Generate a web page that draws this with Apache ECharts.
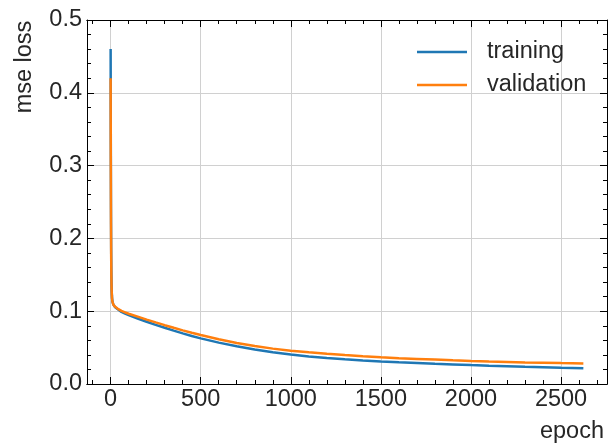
<!DOCTYPE html>
<html>
<head>
<meta charset="utf-8">
<script src="https://cdn.jsdelivr.net/npm/echarts@6/dist/echarts.min.js"></script>
<style>
  html, body { margin: 0; padding: 0; background: #fff; }
  #chart { width: 610px; height: 446px; }
</style>
</head>
<body>
<div id="chart"></div>
<script>
// Loss per epoch, sampled more densely where the curve bends sharply.
const epochs = [0, 1, 2, 3, 4, 5, 6, 7, 8, 10, 12, 15, 18, 21, 25, 30, 35, 40, 50, 60, 70, 80,
  100, 150, 200, 250, 300, 350, 400, 450, 500, 600, 700, 800, 900, 1000, 1100, 1200,
  1300, 1400, 1500, 1600, 1700, 1800, 1900, 2000, 2100, 2200, 2300, 2400, 2500, 2624];

const training = [0.460, 0.330, 0.240, 0.185, 0.155, 0.138, 0.128, 0.122, 0.118, 0.1135, 0.111,
  0.109, 0.1075, 0.1065, 0.1055, 0.1045, 0.1036, 0.1027, 0.1001, 0.0990, 0.0979, 0.0968,
  0.0948, 0.0900, 0.0855, 0.0812, 0.0772, 0.0733, 0.0696, 0.0660, 0.0627, 0.0568,
  0.0518, 0.0475, 0.0437, 0.0405, 0.0379, 0.0358, 0.0340, 0.0324, 0.0310, 0.0298, 0.0288,
  0.0278, 0.0269, 0.0260, 0.0252, 0.0245, 0.0237, 0.0230, 0.0223, 0.0215];

const validation = [0.420, 0.300, 0.220, 0.175, 0.150, 0.135, 0.126, 0.121, 0.117, 0.113, 0.111,
  0.109, 0.108, 0.107, 0.106, 0.105, 0.1042, 0.1033, 0.1015, 0.1005, 0.0995, 0.0985,
  0.0965, 0.0925, 0.0885, 0.0846, 0.0808, 0.0772, 0.0737, 0.0704, 0.0672, 0.0614,
  0.0564, 0.0521, 0.0486, 0.0458, 0.0435, 0.0414, 0.0397, 0.0381, 0.0366, 0.0355, 0.0345,
  0.0335, 0.0325, 0.0316, 0.0309, 0.0303, 0.0297, 0.0292, 0.0287, 0.0282];

const xMajorTicks = [0, 500, 1000, 1500, 2000, 2500];
const xMinorTicks = [-100, 100, 200, 300, 400, 600, 700, 800, 900, 1100, 1200, 1300, 1400,
  1600, 1700, 1800, 1900, 2100, 2200, 2300, 2400, 2600, 2700];

const seriesNames = ['training', 'validation'];
const colors = ['#1f77b4', '#ff7f0e'];

const xMin = -131.2, xMax = 2755.2;
const FONT = 'Liberation Sans, Arial, Helvetica, sans-serif';
const TXT = '#262626';

function tickAxis(position, values, len, withLabels) {
  return {
    type: 'value', position: position, min: xMin, max: xMax,
    axisLine: { show: true, onZero: false, lineStyle: { color: '#000', width: 1 } },
    axisTick: { show: true, inside: true, length: len, customValues: values,
      lineStyle: { color: '#000', width: 1 } },
    axisLabel: withLabels
      ? { show: true, customValues: xMajorTicks, margin: 4, color: TXT, fontSize: 23.5,
          fontFamily: FONT, formatter: v => String(v) }
      : { show: false },
    splitLine: withLabels
      ? { show: true, lineStyle: { color: '#d0d0d0', width: 1 } }
      : { show: false },
    minorTick: { show: false }
  };
}

function yAxisDef(position, withLabels) {
  return {
    type: 'value', position: position, min: 0, max: 0.5, interval: 0.1,
    axisLine: { show: true, onZero: false, lineStyle: { color: '#000', width: 1 } },
    axisTick: { show: true, inside: true, length: 7, lineStyle: { color: '#000', width: 1 } },
    minorTick: { show: true, splitNumber: 5, length: 4, lineStyle: { color: '#000', width: 1 } },
    axisLabel: withLabels
      ? { show: true, margin: 5, color: TXT, fontSize: 23.5, fontFamily: FONT,
          formatter: v => v.toFixed(1) }
      : { show: false },
    splitLine: withLabels
      ? { show: true, lineStyle: { color: '#d0d0d0', width: 1 } }
      : { show: false }
  };
}

const chart = echarts.init(document.getElementById('chart'), null, { renderer: 'canvas' });

chart.setOption({
  animation: false,
  backgroundColor: '#fff',
  grid: { left: 87, right: 3, top: 20, bottom: 62, containLabel: false },
  xAxis: [
    tickAxis('bottom', xMajorTicks, 7, true),
    tickAxis('bottom', xMinorTicks, 4, false),
    tickAxis('top', xMajorTicks, 7, false),
    tickAxis('top', xMinorTicks, 4, false)
  ],
  yAxis: [yAxisDef('left', true), yAxisDef('right', false)],
  legend: {
    orient: 'vertical', left: 417, top: 40, padding: 0,
    itemWidth: 50, itemHeight: 2.5, itemGap: 9, icon: 'rect',
    data: seriesNames,
    textStyle: { color: TXT, fontSize: 23.5, fontFamily: FONT, padding: [0, 0, 0, 15] }
  },
  graphic: [
    { type: 'text', x: 25, y: 67, rotation: Math.PI / 2,
      style: { text: 'mse loss', fill: TXT, font: '23.5px ' + FONT,
        textAlign: 'center', textVerticalAlign: 'middle' } },
    { type: 'text', x: 604, y: 432,
      style: { text: 'epoch', fill: TXT, font: '23.5px ' + FONT,
        textAlign: 'right', textVerticalAlign: 'middle' } }
  ],
  series: seriesNames.map((name, k) => ({
    name: name, type: 'line', xAxisIndex: 0, yAxisIndex: 0,
    data: epochs.map((e, i) => [e, (k === 0 ? training : validation)[i]]),
    showSymbol: false, symbol: 'none',
    lineStyle: { color: colors[k], width: 2.5 },
    itemStyle: { color: colors[k] },
    z: 3 + k
  }))
});
</script>
</body>
</html>
